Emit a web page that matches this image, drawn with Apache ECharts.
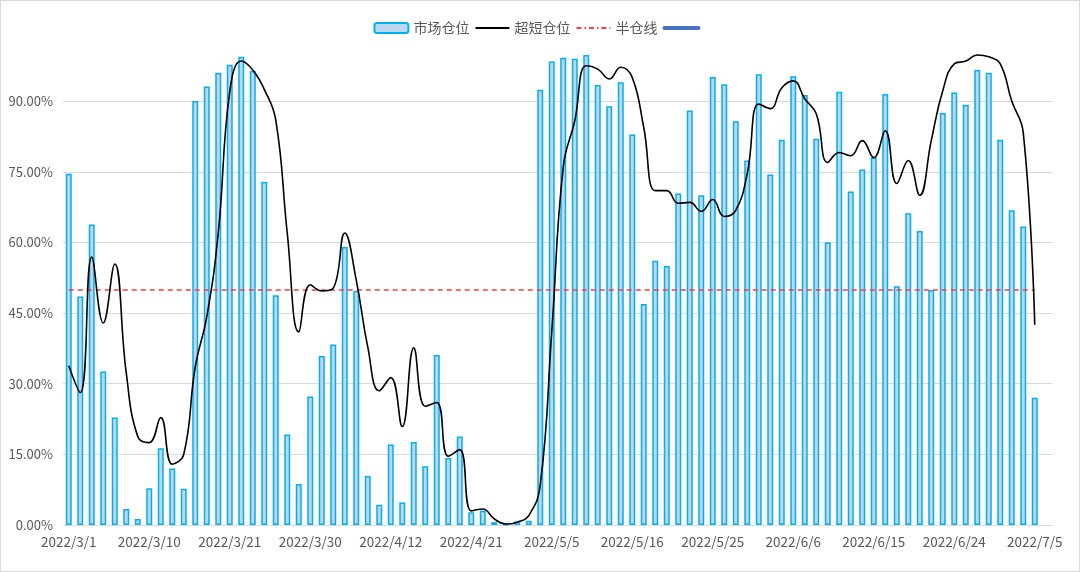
<!DOCTYPE html>
<html>
<head>
<meta charset="utf-8">
<script src="https://cdn.jsdelivr.net/npm/echarts@6/dist/echarts.min.js"></script>
<style>
  html, body { margin: 0; padding: 0; background: #fff; }
  #chart { width: 1080px; height: 572px; box-sizing: border-box; border: 1px solid #d9d9d9; }
</style>
</head>
<body>
<div id="chart"></div>
<script>
// trading days, 2022/3/1 .. 2022/7/5
const dates = [
  '2022/3/1', '2022/3/2', '2022/3/3', '2022/3/4', '2022/3/7', '2022/3/8', '2022/3/9', '2022/3/10',
  '2022/3/11', '2022/3/14', '2022/3/15', '2022/3/16', '2022/3/17', '2022/3/18', '2022/3/21',
  '2022/3/22', '2022/3/23', '2022/3/24', '2022/3/25', '2022/3/28', '2022/3/29', '2022/3/30',
  '2022/3/31', '2022/4/1', '2022/4/6', '2022/4/7', '2022/4/8', '2022/4/11', '2022/4/12',
  '2022/4/13', '2022/4/14', '2022/4/15', '2022/4/18', '2022/4/19', '2022/4/20', '2022/4/21',
  '2022/4/22', '2022/4/25', '2022/4/26', '2022/4/27', '2022/4/28', '2022/4/29', '2022/5/5',
  '2022/5/6', '2022/5/9', '2022/5/10', '2022/5/11', '2022/5/12', '2022/5/13', '2022/5/16',
  '2022/5/17', '2022/5/18', '2022/5/19', '2022/5/20', '2022/5/23', '2022/5/24', '2022/5/25',
  '2022/5/26', '2022/5/27', '2022/5/30', '2022/5/31', '2022/6/1', '2022/6/2', '2022/6/6',
  '2022/6/7', '2022/6/8', '2022/6/9', '2022/6/10', '2022/6/13', '2022/6/14', '2022/6/15',
  '2022/6/16', '2022/6/17', '2022/6/20', '2022/6/21', '2022/6/22', '2022/6/23', '2022/6/24',
  '2022/6/27', '2022/6/28', '2022/6/29', '2022/6/30', '2022/7/1', '2022/7/4', '2022/7/5'
];

// 市场仓位
const marketPos = [
  0.746, 0.485, 0.638, 0.326, 0.228, 0.034, 0.013, 0.078, 0.163, 0.12,
  0.077, 0.90, 0.931, 0.96, 0.977, 0.994, 0.964, 0.729, 0.488, 0.192,
  0.087, 0.273, 0.359, 0.383, 0.59, 0.497, 0.104, 0.043, 0.171, 0.048,
  0.176, 0.125, 0.361, 0.142, 0.188, 0.027, 0.03, 0.006, 0.001, 0.008,
  0.009, 0.924, 0.984, 0.992, 0.99, 0.998, 0.934, 0.889, 0.94, 0.829,
  0.469, 0.561, 0.55, 0.704, 0.88, 0.70, 0.951, 0.936, 0.857, 0.774,
  0.957, 0.744, 0.818, 0.953, 0.913, 0.82, 0.60, 0.92, 0.708, 0.755,
  0.78, 0.915, 0.507, 0.662, 0.624, 0.499, 0.875, 0.918, 0.892, 0.966,
  0.96, 0.818, 0.668, 0.634, 0.27
];

// 超短仓位
const shortPos = [
  0.338, 0.281, 0.569, 0.429, 0.554, 0.323, 0.188, 0.175, 0.228, 0.129,
  0.15, 0.336, 0.442, 0.62, 0.92, 0.985, 0.966, 0.925, 0.86, 0.62,
  0.41, 0.51, 0.497, 0.503, 0.62, 0.52, 0.378, 0.285, 0.313, 0.209,
  0.376, 0.252, 0.26, 0.146, 0.16, 0.03, 0.034, 0.013, 0.002, 0.006,
  0.02, 0.085, 0.41, 0.76, 0.858, 0.975, 0.968, 0.947, 0.972, 0.95,
  0.844, 0.71, 0.71, 0.683, 0.685, 0.666, 0.691, 0.655, 0.668, 0.746,
  0.894, 0.884, 0.928, 0.943, 0.905, 0.873, 0.77, 0.791, 0.784, 0.816,
  0.78, 0.837, 0.725, 0.774, 0.70, 0.816, 0.922, 0.979, 0.985, 0.998,
  0.994, 0.979, 0.90, 0.833, 0.425
];

// 半仓线
const halfLine = 0.5;

// excel leaves one empty slot after the last day
const axisCats = dates.concat(['']);

const myChart = echarts.init(document.getElementById('chart'));

const hideDot = { color: 'transparent', borderWidth: 0, opacity: 0 };

const option = {
  animation: false,
  textStyle: { fontFamily: '"Noto Sans CJK SC", "DejaVu Sans", sans-serif' },
  legend: {
    top: 15,
    left: 'center',
    itemWidth: 34,
    itemHeight: 10,
    itemGap: 5,
    textStyle: { color: '#595959', fontSize: 14 },
    data: [
      { name: '市场仓位' },
      { name: '超短仓位', itemStyle: hideDot, lineStyle: { width: 2 } },
      { name: '半仓线', itemStyle: hideDot, lineStyle: { width: 2 } },
      { name: ' ', itemStyle: hideDot, lineStyle: { width: 4, cap: 'round' } }
    ]
  },
  grid: {
    left: 62,
    right: 27,
    top: 53,
    bottom: 46
  },
  xAxis: {
    type: 'category',
    data: axisCats,
    boundaryGap: true,
    axisLine: { lineStyle: { color: '#d9d9d9', width: 1 } },
    axisTick: {
      interval: 0,
      length: 5,
      lineStyle: { color: '#d9d9d9' }
    },
    axisLabel: {
      interval: 6,
      margin: 10,
      color: '#595959',
      fontSize: 13.5
    }
  },
  yAxis: {
    type: 'value',
    min: 0,
    max: 1,
    interval: 0.15,
    axisLine: { show: false },
    axisTick: { show: false },
    axisLabel: {
      color: '#595959',
      fontSize: 13,
      margin: 10,
      showMaxLabel: false,
      formatter: function (v) {
        return (v * 100).toFixed(2) + '%';
      }
    },
    splitLine: {
      show: true,
      showMinLine: false,
      showMaxLine: false,
      lineStyle: { color: '#d9d9d9', width: 1 }
    }
  },
  series: [
    {
      name: '市场仓位',
      type: 'bar',
      barWidth: 6,
      data: marketPos,
      itemStyle: {
        color: '#bdd7ee',
        borderColor: '#00b0f0',
        borderWidth: 1.5
      }
    },
    {
      name: '超短仓位',
      type: 'line',
      smooth: 0.45,
      symbol: 'none',
      data: shortPos,
      lineStyle: { color: '#000000', width: 1.6 },
      itemStyle: { color: '#000000' },
      z: 5
    },
    {
      name: '半仓线',
      type: 'line',
      symbol: 'none',
      data: [],
      lineStyle: { color: '#ff3b3b', width: 1.5, type: [5, 3, 1.5, 3] },
      itemStyle: { color: '#ff3b3b' },
      markLine: {
        silent: true,
        symbol: ['none', 'none'],
        label: { show: false },
        lineStyle: { color: '#ff3b3b', width: 1.5, type: [5, 4] },
        data: [[
          { coord: [dates[0], halfLine] },
          { coord: [dates[dates.length - 1], halfLine] }
        ]]
      },
      z: 4
    },
    {
      name: ' ',
      type: 'line',
      symbol: 'none',
      data: [],
      lineStyle: { color: '#4472c4', width: 4, cap: 'round' },
      itemStyle: { color: '#4472c4' }
    }
  ]
};

myChart.setOption(option);
</script>
</body>
</html>
